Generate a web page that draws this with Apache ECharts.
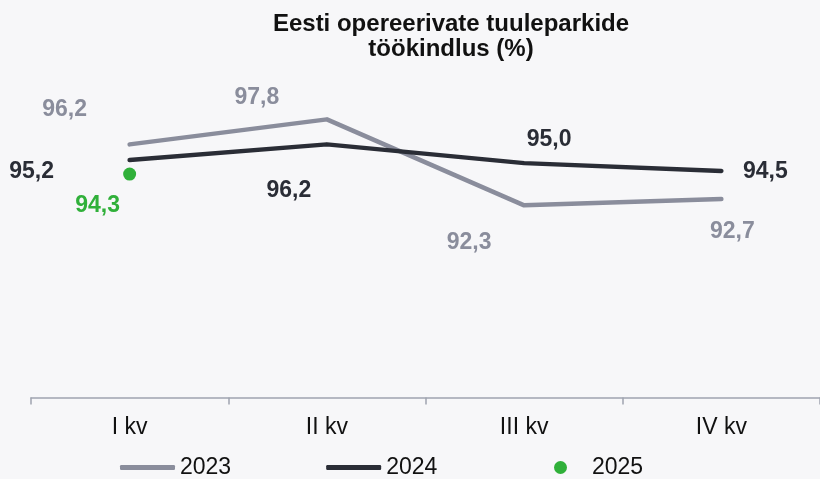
<!DOCTYPE html>
<html>
<head>
<meta charset="utf-8">
<script src="https://cdn.jsdelivr.net/npm/echarts@6/dist/echarts.min.js"></script>
<style>
  html, body { margin: 0; padding: 0; background: #f7f7f9; }
  #chart { width: 820px; height: 479px; }
</style>
</head>
<body>
<div id="chart"></div>
<script>
// andmed
var categories = ['I kv', 'II kv', 'III kv', 'IV kv'];
var values2023 = [96.2, 97.8, 92.3, 92.7];
var values2024 = [95.2, 96.2, 95.0, 94.5];
var values2025 = [94.3, null, null, null];

// sildi nihked punkti suhtes (px)
var offsets2023 = [[-65, -35], [-70, -22], [-55, 37], [11, 33]];
var offsets2024 = [[-98, 12], [-38, 46], [25, -23], [44, 1]];
var offsets2025 = [[-32, 32]];

var font = "'Liberation Sans', Arial, sans-serif";
var grey = '#8a8d9c', dark = '#2a2d36', green = '#30b03a';

function withLabels(vals, offs) {
  return vals.map(function (v, i) {
    if (v == null) return null;
    return { value: v, label: { offset: offs[i] } };
  });
}
function fmt(p) {
  return p.value.toFixed(1).replace('.', ',');
}

var chart = echarts.init(document.getElementById('chart'));
chart.setOption({
  backgroundColor: '#f7f7f9',
  animation: false,
  title: {
    text: 'Eesti opereerivate tuuleparkide\ntöökindlus (%)',
    left: 446,
    top: 7,
    textAlign: 'center',
    textStyle: { fontFamily: font, fontSize: 24, fontWeight: 'bold', color: '#111', lineHeight: 25 }
  },
  grid: { left: 31, right: -7, top: 85, bottom: 81.5 },
  legend: [
    {
      data: ['2023', '2024'],
      left: 120, top: 456, padding: 0,
      icon: 'roundRect', itemWidth: 55, itemHeight: 5, itemGap: 95,
      textStyle: { fontFamily: font, fontSize: 23, color: '#111' }
    },
    {
      data: ['2025'],
      left: 554, top: 456, padding: 0,
      icon: 'circle', itemWidth: 13, itemHeight: 13,
      textStyle: { fontFamily: font, fontSize: 23, color: '#111', padding: [0, 0, 0, 20] }
    }
  ],
  xAxis: {
    type: 'category',
    data: categories,
    boundaryGap: true,
    axisLine: { lineStyle: { color: '#a0a4b0', width: 1.5 } },
    axisTick: { show: true, length: 7, lineStyle: { color: '#a0a4b0', width: 1.5 } },
    axisLabel: { fontFamily: font, fontSize: 23, color: '#111', margin: 19 }
  },
  yAxis: {
    type: 'value', min: 80, max: 100, show: false,
    splitLine: { show: false }
  },
  series: [
    {
      name: '2023', type: 'line',
      data: withLabels(values2023, offsets2023),
      symbol: 'circle', symbolSize: 2,
      itemStyle: { color: grey },
      lineStyle: { color: grey, width: 4.5, cap: 'round', join: 'round' },
      label: { show: true, position: 'inside', formatter: fmt,
        fontFamily: font, fontSize: 23, fontWeight: 'bold', color: grey }
    },
    {
      name: '2024', type: 'line',
      data: withLabels(values2024, offsets2024),
      symbol: 'circle', symbolSize: 2,
      itemStyle: { color: dark },
      lineStyle: { color: dark, width: 4.5, cap: 'round', join: 'round' },
      label: { show: true, position: 'inside', formatter: fmt,
        fontFamily: font, fontSize: 23, fontWeight: 'bold', color: dark }
    },
    {
      name: '2025', type: 'line',
      data: withLabels(values2025, offsets2025),
      symbol: 'circle', symbolSize: 13,
      itemStyle: { color: green },
      lineStyle: { width: 0 },
      label: { show: true, position: 'inside', formatter: fmt,
        fontFamily: font, fontSize: 23, fontWeight: 'bold', color: green }
    }
  ]
});
</script>
</body>
</html>
